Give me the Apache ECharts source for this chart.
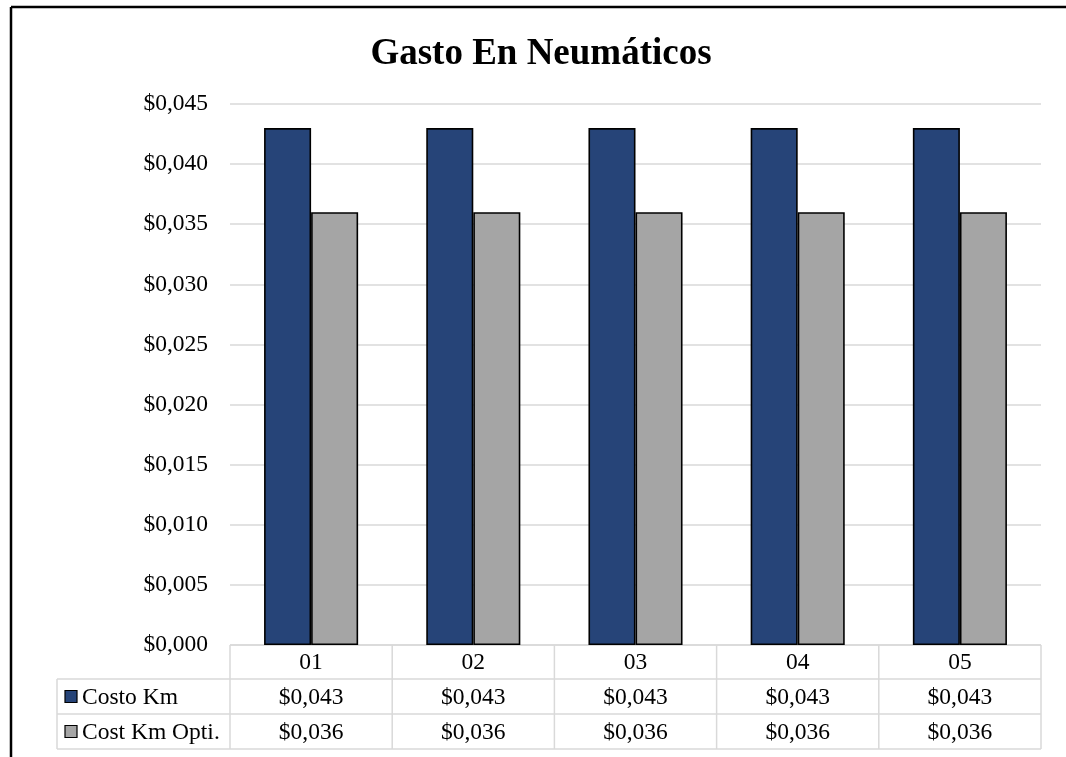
<!DOCTYPE html>
<html>
<head>
<meta charset="utf-8">
<style>
  html, body { margin: 0; padding: 0; background: #fff; }
  #chart { width: 1066px; height: 757px; }
</style>
<script src="https://cdn.jsdelivr.net/npm/echarts@6/dist/echarts.min.js"></script>
</head>
<body>
<div id="chart"></div>
<script>
// Categories and series values
const categories = ['01', '02', '03', '04', '05'];
const costoKm = [0.043, 0.043, 0.043, 0.043, 0.043];
const costKmOpti = [0.036, 0.036, 0.036, 0.036, 0.036];
const seriesNames = ['Costo Km', 'Cost Km Opti.'];
const seriesColors = ['#264478', '#A5A5A5'];

const FONT = '"Liberation Serif", "Times New Roman", serif';
const FONT_SIZE = 23.5;
const money = v => '$' + v.toFixed(3).replace('.', ',');

const GRID = { left: 230, right: 25, top: 104, bottom: 112 };
const TABLE_LEFT = 57;
const ROW_LINES = [645, 679, 714, 749];
const GRID_COLOR = '#d9d9d9';

const chart = echarts.init(document.getElementById('chart'));

chart.setOption({
  animation: false,
  backgroundColor: '#fff',
  title: {
    text: 'Gasto En Neumáticos',
    left: 536,
    top: 31,
    textAlign: 'center',
    textStyle: { fontFamily: FONT, fontSize: 37, fontWeight: 'bold', color: '#000' }
  },
  grid: GRID,
  xAxis: {
    type: 'category',
    data: categories,
    axisLine: { show: false },
    axisTick: { show: false },
    axisLabel: { show: false }
  },
  yAxis: {
    type: 'value',
    min: 0,
    max: 0.045,
    interval: 0.005,
    axisLine: { show: false },
    axisTick: { show: false },
    splitLine: { lineStyle: { color: GRID_COLOR, width: 1.5 } },
    axisLabel: {
      margin: 22,
      formatter: v => money(v),
      fontFamily: FONT, fontSize: FONT_SIZE, color: '#000'
    }
  },
  series: [
    {
      name: seriesNames[0], type: 'bar', data: costoKm,
      barGap: '0%', barCategoryGap: '42%',
      itemStyle: { color: seriesColors[0], borderColor: '#000', borderWidth: 1.6 }
    },
    {
      name: seriesNames[1], type: 'bar', data: costKmOpti,
      itemStyle: { color: seriesColors[1], borderColor: '#000', borderWidth: 1.6 }
    }
  ]
});

// Data table under the plot, aligned with the category axis
function buildTable() {
  const g = [];
  const line = (x1, y1, x2, y2, color, w) => ({
    type: 'line', silent: true,
    shape: { x1, y1, x2, y2 },
    style: { stroke: color, lineWidth: w }
  });
  const text = (x, y, s, align) => ({
    type: 'text', silent: true,
    x, y,
    style: { text: s, fill: '#000', font: FONT_SIZE + 'px ' + FONT, align: align || 'center', verticalAlign: 'middle' }
  });

  const c0 = chart.convertToPixel({ xAxisIndex: 0 }, categories[0]);
  const c1 = chart.convertToPixel({ xAxisIndex: 0 }, categories[1]);
  const band = c1 - c0;
  const xStart = c0 - band / 2;
  const xEnd = xStart + band * categories.length;

  // horizontal rules
  g.push(line(xStart, ROW_LINES[0], xEnd, ROW_LINES[0], GRID_COLOR, 1.5));
  for (let i = 1; i < ROW_LINES.length; i++) {
    g.push(line(TABLE_LEFT, ROW_LINES[i], xEnd, ROW_LINES[i], GRID_COLOR, 1.5));
  }
  // vertical rules
  g.push(line(TABLE_LEFT, ROW_LINES[1], TABLE_LEFT, ROW_LINES[3], GRID_COLOR, 1.5));
  for (let k = 0; k <= categories.length; k++) {
    const x = xStart + band * k;
    g.push(line(x, ROW_LINES[0], x, ROW_LINES[3], GRID_COLOR, 1.5));
  }

  const rowMid = i => (ROW_LINES[i] + ROW_LINES[i + 1]) / 2;
  categories.forEach((c, i) => {
    const cx = chart.convertToPixel({ xAxisIndex: 0 }, c);
    g.push(text(cx, rowMid(0) + 1, c));
    g.push(text(cx, rowMid(1) + 1, money(costoKm[i])));
    g.push(text(cx, rowMid(2) + 1, money(costKmOpti[i])));
  });

  // legend keys inside the table
  seriesNames.forEach((name, i) => {
    const y = rowMid(i + 1);
    g.push({
      type: 'rect', silent: true,
      shape: { x: 65, y: y - 6, width: 12, height: 12 },
      style: { fill: seriesColors[i], stroke: '#000', lineWidth: 1.2 }
    });
    g.push(text(82, y + 1, name, 'left'));
  });

  // outer frame
  g.push(line(11, 7, 1066, 7, '#000', 2.5));
  g.push(line(11, 7, 11, 757, '#000', 2.5));

  chart.setOption({ graphic: g });
}
buildTable();
</script>
</body>
</html>
